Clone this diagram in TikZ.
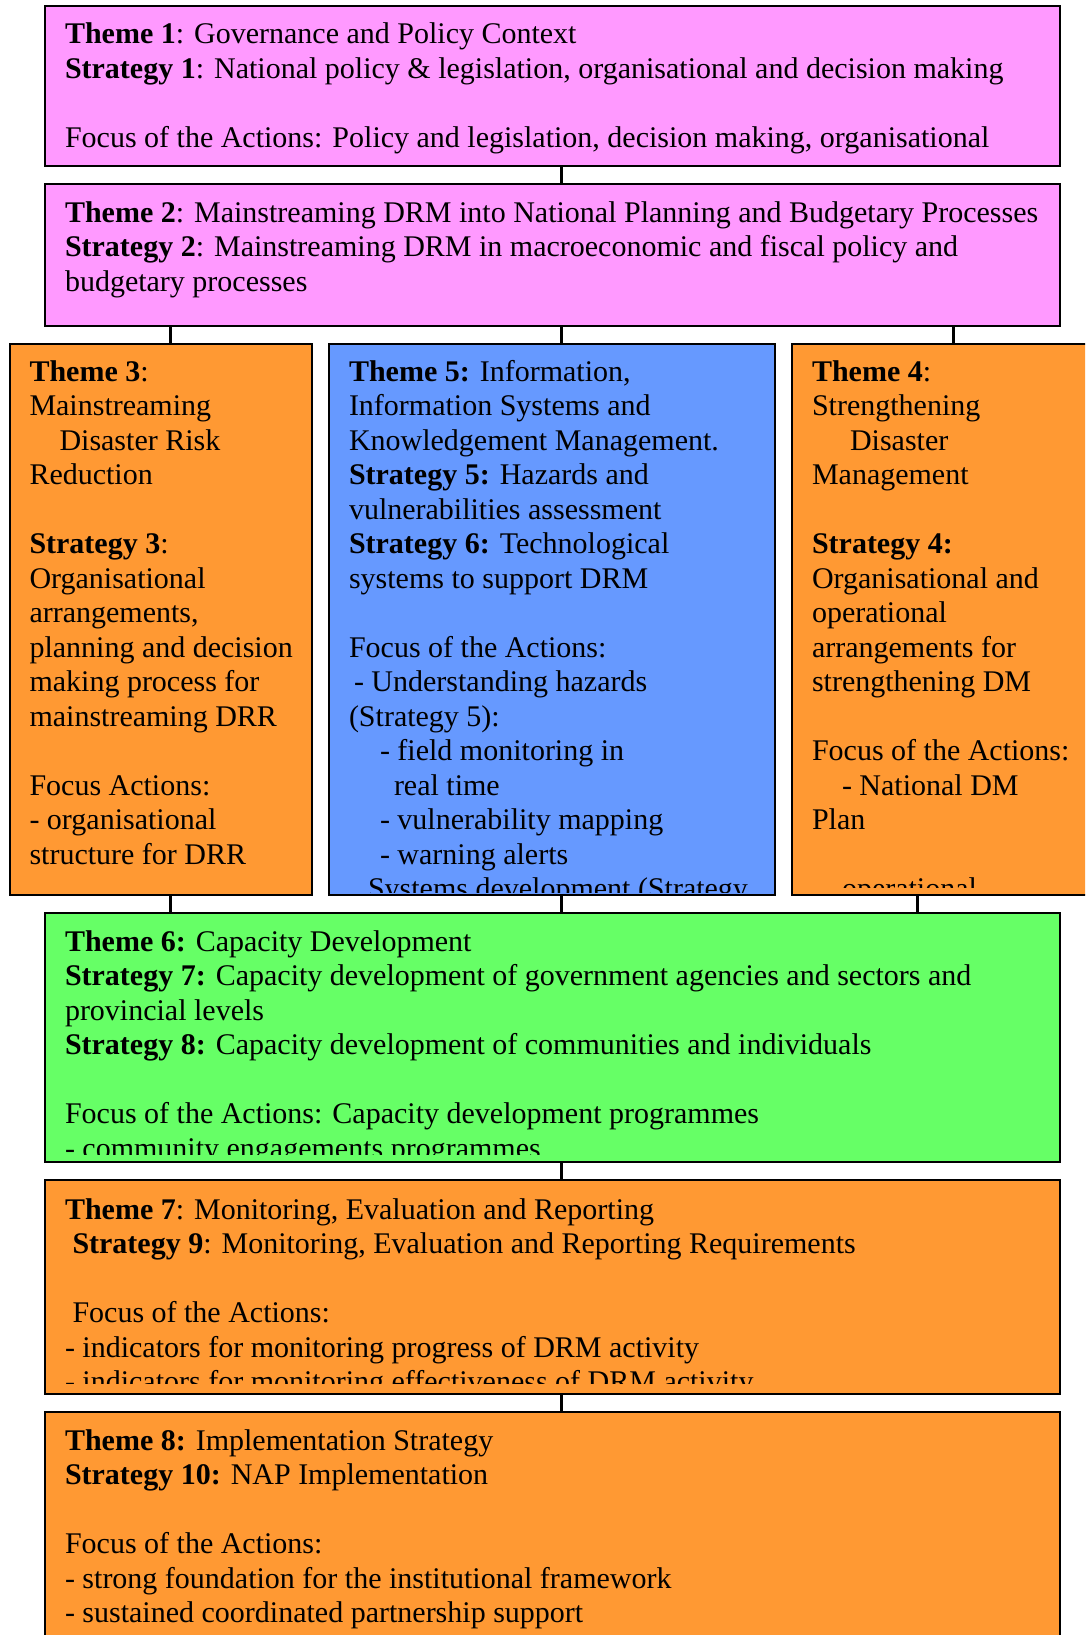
\documentclass[tikz,border=0pt]{standalone}
\usepackage{fontspec}
\setmainfont{Liberation Serif}
\usetikzlibrary{calc}

\definecolor{themepink}{HTML}{FF99FF}
\definecolor{themeorange}{HTML}{FF9933}
\definecolor{themeblue}{HTML}{6699FF}
\definecolor{themegreen}{HTML}{66FF66}

\newcommand{\blankline}{\mbox{}}
\newcommand{\ind}[1]{\hspace*{#1pt}}

\tikzset{
  panel/.style={draw=black, line width=2pt, anchor=north west,
                inner sep=0pt, outer sep=0pt},
  link/.style={draw=black, line width=3pt},
  paneltext/.style={anchor=base west, inner sep=0pt, outer sep=0pt,
                    font=\fontsize{30pt}{34.5pt}\selectfont}
}

\begin{document}
\begin{tikzpicture}[x=1pt,y=1pt]
  \useasboundingbox (0,0) rectangle (1085,-1635);
  \clip (0,0) rectangle (1085,-1635);
  \fill[white] (0,0) rectangle (1085,-1635);

  % ---- panels ----
  \node[panel, fill=themepink,   minimum width=1015pt, minimum height=160pt] (t1) at (45,-6) {};
  \node[panel, fill=themepink,   minimum width=1015pt, minimum height=142pt] (t2) at (45,-184) {};
  \node[panel, fill=themeorange, minimum width=302pt,  minimum height=551pt] (t3) at (9.5,-344) {};
  \node[panel, fill=themeblue,   minimum width=446pt,  minimum height=551pt] (t5) at (329,-344) {};
  \node[panel, fill=themeorange, minimum width=400pt,  minimum height=551pt] (t4) at (792,-344) {};
  \node[panel, fill=themegreen,  minimum width=1015pt, minimum height=249pt] (t6) at (45,-913) {};
  \node[panel, fill=themeorange, minimum width=1015pt, minimum height=214pt] (t7) at (45,-1180) {};
  \node[panel, fill=themeorange, minimum width=1015pt, minimum height=300pt] (t8) at (45,-1412) {};

  % ---- connectors ----
  \coordinate (colA) at (170,0);
  \coordinate (colB) at (561,0);
  \coordinate (colC) at (953,0);
  \coordinate (colD) at (917,0);
  \draw[link] (t1.south -| colB) -- (t2.north -| colB);
  \draw[link] (t2.south -| colA) -- (t3.north -| colA);
  \draw[link] (t2.south -| colB) -- (t5.north -| colB);
  \draw[link] (t2.south -| colC) -- (t4.north -| colC);
  \draw[link] (t3.south -| colA) -- (t6.north -| colA);
  \draw[link] (t5.south -| colB) -- (t6.north -| colB);
  \draw[link] (t4.south -| colD) -- (t6.north -| colD);
  \draw[link] (t6.south -| colB) -- (t7.north -| colB);
  \draw[link] (t7.south -| colB) -- (t8.north -| colB);

  % ---- texts ----
  \begin{scope}
    \clip ($(t1.north west)+(1,-1)$) rectangle ($(t1.south east)+(-1,1)$);
    \node[paneltext] (x1) at ($(t1.north west)+(20,-38)$) {\parbox[t]{1000pt}{\raggedright
      \textbf{Theme 1}: Governance and Policy Context\\
      \textbf{Strategy 1}: National policy \& legislation, organisational and decision making\\
      \blankline\\
      Focus of the Actions: Policy and legislation, decision making, organisational}};
  \end{scope}

  \begin{scope}
    \clip ($(t2.north west)+(1,-1)$) rectangle ($(t2.south east)+(-1,1)$);
    \node[paneltext] (x2) at ($(t2.north west)+(20,-38)$) {\parbox[t]{1000pt}{\raggedright
      \textbf{Theme 2}: Mainstreaming DRM into National Planning and Budgetary Processes\\
      \textbf{Strategy 2}: Mainstreaming DRM in macroeconomic and fiscal policy and\\
      budgetary processes}};
  \end{scope}

  \begin{scope}
    \clip ($(t3.north west)+(1,-1)$) rectangle ($(t3.south east)+(-1,1)$);
    \node[paneltext] (x3) at ($(t3.north west)+(20,-37)$) {\parbox[t]{400pt}{\raggedright
      \textbf{Theme 3}:\\
      Mainstreaming\\
      \ind{30}Disaster Risk\\
      Reduction\\
      \blankline\\
      \textbf{Strategy 3}:\\
      Organisational\\
      arrangements,\\
      planning and decision\\
      making process for\\
      mainstreaming DRR\\
      \blankline\\
      Focus Actions:\\
      - organisational\\
      structure for DRR}};
  \end{scope}

  \begin{scope}
    \clip ($(t5.north west)+(1,-1)$) rectangle ($(t5.south east)+(-1,3)$);
    \node[paneltext] (x5) at ($(t5.north west)+(20,-37)$) {\parbox[t]{600pt}{\raggedright
      \textbf{Theme 5:} Information,\\
      Information Systems and\\
      Knowledgement Management.\\
      \textbf{Strategy 5:} Hazards and\\
      vulnerabilities assessment\\
      \textbf{Strategy 6:} Technological\\
      systems to support DRM\\
      \blankline\\
      Focus of the Actions:\\
      \ind{5}- Understanding hazards\\
      (Strategy 5):\\
      \ind{31}- field monitoring in\\
      \ind{45}real time\\
      \ind{31}- vulnerability mapping\\
      \ind{31}- warning alerts\\
      \ind{19}Systems development (Strategy}};
  \end{scope}

  \begin{scope}
    \clip ($(t4.north west)+(1,-1)$) rectangle ($(t4.south east)+(-1,8)$);
    \node[paneltext] (x4) at ($(t4.north west)+(20,-37)$) {\parbox[t]{400pt}{\raggedright
      \textbf{Theme 4}:\\
      Strengthening\\
      \ind{38}Disaster\\
      Management\\
      \blankline\\
      \textbf{Strategy 4:}\\
      Organisational and\\
      operational\\
      arrangements for\\
      strengthening DM\\
      \blankline\\
      Focus of the Actions:\\
      \ind{30}- National DM\\
      Plan\\
      \blankline\\
      \ind{30}operational}};
  \end{scope}

  \begin{scope}
    \clip ($(t6.north west)+(1,-1)$) rectangle ($(t6.south east)+(-1,8)$);
    \node[paneltext] (x6) at ($(t6.north west)+(20,-38)$) {\parbox[t]{1000pt}{\raggedright
      \textbf{Theme 6:} Capacity Development\\
      \textbf{Strategy 7:} Capacity development of government agencies and sectors and\\
      provincial levels\\
      \textbf{Strategy 8:} Capacity development of communities and individuals\\
      \blankline\\
      Focus of the Actions: Capacity development programmes\\
      - community engagements programmes}};
  \end{scope}

  \begin{scope}
    \clip ($(t7.north west)+(1,-1)$) rectangle ($(t7.south east)+(-1,11)$);
    \node[paneltext] (x7) at ($(t7.north west)+(20,-39)$) {\parbox[t]{1000pt}{\raggedright
      \textbf{Theme 7}: Monitoring, Evaluation and Reporting\\
      \ind{7.5}\textbf{Strategy 9}: Monitoring, Evaluation and Reporting Requirements\\
      \blankline\\
      \ind{7.5}Focus of the Actions:\\
      - indicators for monitoring progress of DRM activity\\
      - indicators for monitoring effectiveness of DRM activity}};
  \end{scope}

  \begin{scope}
    \clip ($(t8.north west)+(1,-1)$) rectangle ($(t8.south east)+(-1,1)$);
    \node[paneltext] (x8) at ($(t8.north west)+(20,-38)$) {\parbox[t]{1000pt}{\raggedright
      \textbf{Theme 8:} Implementation Strategy\\
      \textbf{Strategy 10:} NAP Implementation\\
      \blankline\\
      Focus of the Actions:\\
      - strong foundation for the institutional framework\\
      - sustained coordinated partnership support}};
  \end{scope}
\end{tikzpicture}
\end{document}
